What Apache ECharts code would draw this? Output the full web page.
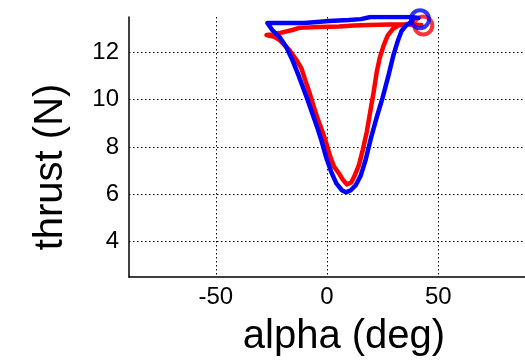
<!DOCTYPE html>
<html>
<head>
<meta charset="utf-8">
<script src="https://cdn.jsdelivr.net/npm/echarts@6/dist/echarts.min.js"></script>
<style>
  html, body { margin: 0; padding: 0; background: #fff; }
  #chart { width: 525px; height: 362px; }
</style>
</head>
<body>
<div id="chart"></div>
<script>
// Thrust vs. angle of attack over one stroke, two runs (alpha in deg, thrust in N)
const redAlpha = [42.4, 36.6, 27.7, 18.75, 12.05, 5.4, -3.6, -12.5, -15.6, -21.4, -24.6, -27.2,
  -23.7, -21.4, -17.0, -13.8, -11.6, -9.8, -8.0, -6.25, -4.5, -2.2, -0.4, 1.3, 3.1, 5.4, 7.1,
  8.9, 10.9, 12.5, 14.3, 16.1, 17.9, 19.6, 21.0, 22.3, 23.7, 25.4, 27.2, 29.5, 32.1, 36.6];
const redThrust = [13.16, 13.18, 13.18, 13.16, 13.14, 13.1, 13.08, 13.04, 12.95, 12.82, 12.76, 12.74,
  12.66, 12.53, 12.11, 11.69, 11.35, 10.84, 10.34, 9.79, 9.28, 8.69, 8.19, 7.64, 7.18, 6.88, 6.62,
  6.42, 6.5, 6.8, 7.22, 7.89, 8.65, 9.58, 10.34, 11.14, 11.77, 12.28, 12.7, 12.99, 13.14, 13.2];

const blueAlpha = [41.1, 37.9, 27.7, 19.6, 15.2, 9.8, 0.9, -4.5, -10.3, -17.0, -22.3, -26.8,
  -24.6, -21.4, -18.3, -15.6, -13.4, -11.2, -8.9, -6.7, -4.5, -2.5, -0.5, 1.8, 4.2, 6.7, 8.5,
  10.7, 12.9, 15.2, 17.4, 19.6, 22.3, 25.0, 27.7, 29.9, 31.7, 33.5, 35.7, 38.4];
const blueThrust = [13.46, 13.5, 13.5, 13.5, 13.41, 13.37, 13.33, 13.29, 13.25, 13.25, 13.25, 13.25,
  12.95, 12.66, 12.23, 11.69, 11.18, 10.63, 10.04, 9.45, 8.86, 8.27, 7.6, 6.97, 6.46, 6.17, 6.08,
  6.17, 6.38, 6.8, 7.47, 8.32, 9.24, 10.09, 11.05, 11.9, 12.45, 12.91, 13.16, 13.33];

// start-of-stroke markers
const redStart = [43.3, 13.14];
const blueStart = [41.8, 13.41];

const xRange = [-89, 89];
const yRange = [2.5, 13.5];

const zip = (a, b) => a.map((v, i) => [v, b[i]]);

const font = '"Liberation Sans", Arial, Helvetica, sans-serif';
const dotted = { color: '#000', width: 1, type: [1.5, 2.5] };

const chart = echarts.init(document.getElementById('chart'), null, { renderer: 'canvas' });
chart.setOption({
  animation: false,
  backgroundColor: '#fff',
  grid: { left: 129, top: 17, width: 399, height: 261, containLabel: false },
  xAxis: {
    type: 'value', min: xRange[0], max: xRange[1], splitNumber: 3,
    name: 'alpha (deg)', nameLocation: 'middle', nameGap: 40,
    nameTextStyle: { fontFamily: font, fontSize: 40, color: '#000', padding: [0, 0, 0, 34] },
    axisLine: { show: true, onZero: false, lineStyle: { color: '#000', width: 1.5 } },
    axisTick: { show: false },
    axisLabel: { fontFamily: font, fontSize: 24, color: '#000', margin: 8,
      showMinLabel: false, showMaxLabel: false },
    splitLine: { show: true, showMinLine: false, showMaxLine: false, lineStyle: dotted }
  },
  yAxis: {
    type: 'value', min: yRange[0], max: yRange[1], splitNumber: 5,
    name: 'thrust (N)', nameLocation: 'middle', nameGap: 58, nameRotate: 90,
    nameTextStyle: { fontFamily: font, fontSize: 40, color: '#000', padding: [0, 40, 0, 0] },
    axisLine: { show: true, onZero: false, lineStyle: { color: '#000', width: 1.5 } },
    axisTick: { show: false },
    axisLabel: { fontFamily: font, fontSize: 24, color: '#000', margin: 10,
      showMinLabel: false, showMaxLabel: false },
    splitLine: { show: true, showMinLine: false, showMaxLine: false, lineStyle: dotted }
  },
  series: [
    {
      type: 'line', data: zip(redAlpha, redThrust), showSymbol: false, smooth: false,
      lineStyle: { color: '#ff0000', width: 4.5, join: 'round', cap: 'round' }, z: 2
    },
    {
      type: 'scatter', data: [redStart], symbol: 'circle', symbolSize: 18,
      itemStyle: { color: 'transparent', borderColor: '#ff0000', borderWidth: 4 }, z: 3
    },
    {
      type: 'line', data: zip(blueAlpha, blueThrust), showSymbol: false, smooth: false,
      lineStyle: { color: '#0000ff', width: 4.5, join: 'round', cap: 'round' }, z: 4
    },
    {
      type: 'scatter', data: [blueStart], symbol: 'circle', symbolSize: 18,
      itemStyle: { color: 'transparent', borderColor: '#0000ff', borderWidth: 4 }, z: 5
    }
  ]
});
</script>
</body>
</html>
